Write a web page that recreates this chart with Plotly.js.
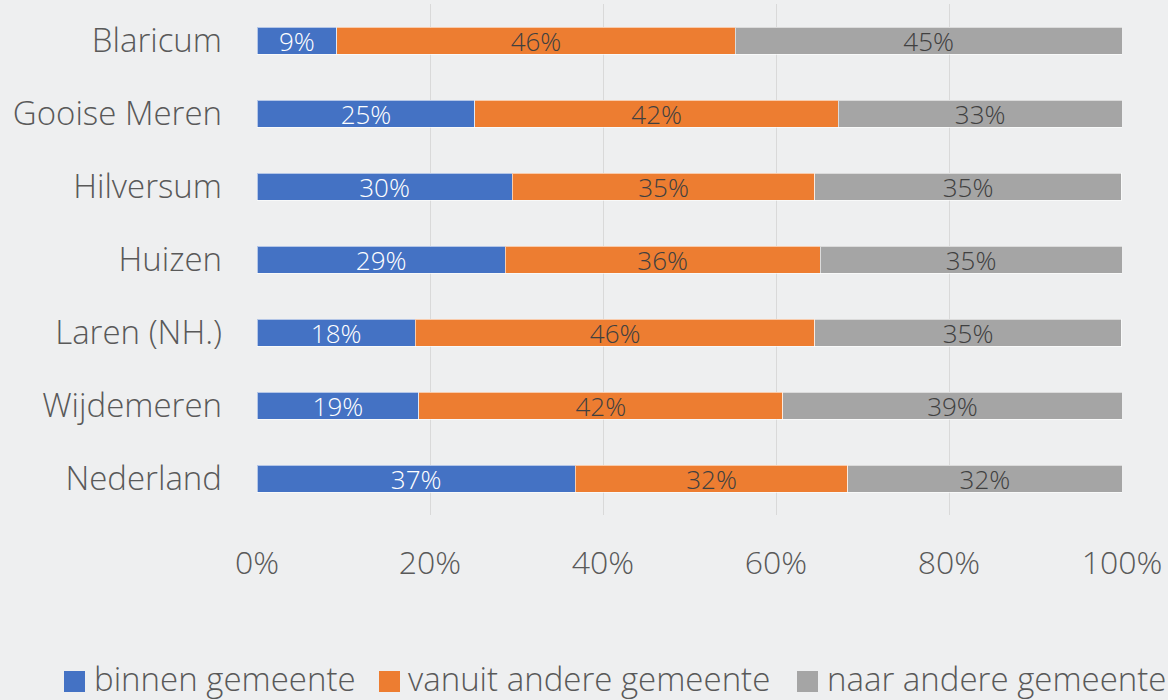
<!DOCTYPE html>
<html>
<head>
<meta charset="utf-8">
<script src="https://cdn.plot.ly/plotly-3.0.1.min.js"></script>
<style>
html,body{margin:0;padding:0;background:#eeeff0;}
#chart{width:1168px;height:700px;}
</style>
</head>
<body>
<div id="chart"></div>
<script>
const categories = ["Blaricum", "Gooise Meren", "Hilversum", "Huizen", "Laren (NH.)", "Wijdemeren", "Nederland"];
const binnen = [9.2, 25.2, 29.5, 28.7, 18.3, 18.7, 36.8];
const vanuit = [46.1, 42.0, 35.0, 36.4, 46.2, 42.1, 31.5];
const naar   = [44.7, 32.8, 35.4, 34.9, 35.4, 39.2, 31.7];
const seriesNames = ["binnen gemeente", "vanuit andere gemeente", "naar andere gemeente"];
const tickVals = [0, 20, 40, 60, 80, 100];
const tickText = ["0%", "20%", "40%", "60%", "80%", "100%"];

const FONT = "'Open Sans', Lato, sans-serif";
const colors = ["#4472C4", "#ED7D31", "#A5A5A5"];
const textColors = ["#ffffff", "#404040", "#404040"];
const series = [binnen, vanuit, naar];

const traces = series.map((vals, i) => ({
  type: "bar",
  orientation: "h",
  name: seriesNames[i],
  y: categories,
  x: vals,
  marker: {color: colors[i], line: {color: "rgba(255,255,255,0.6)", width: 1}},
  texttemplate: "%{x:.0f}%",
  textposition: "inside",
  insidetextanchor: "middle",
  textangle: 0,
  constraintext: "none",
  textfont: {family: FONT, size: 26, color: textColors[i], weight: 300},
  hoverinfo: "skip",
  showlegend: false
}));

// legend drawn as squares + labels (pixel positions converted to paper coords)
const W = 1168, H = 700;
const PL = 257, PW = 865, PB = 515, PH = 511;
const squareStarts = [64, 379, 797];
const textStarts = [95, 409, 828];
const px = v => (v - PL) / PW;
const py = v => (PB - v) / PH;
const shapes = [], annotations = [];
seriesNames.forEach((n, i) => {
  shapes.push({type: "rect", xref: "paper", yref: "paper",
    x0: px(squareStarts[i]), x1: px(squareStarts[i] + 21),
    y0: py(692), y1: py(671),
    fillcolor: colors[i], line: {width: 0}});
  annotations.push({xref: "paper", yref: "paper",
    x: px(textStarts[i] - 3), y: py(678),
    xanchor: "left", yanchor: "middle", showarrow: false, text: n,
    font: {family: FONT, size: 33, color: "#595959", weight: 300}});
});

const layout = {
  width: W,
  height: H,
  barmode: "stack",
  bargap: 0.63,
  paper_bgcolor: "#eeeff0",
  plot_bgcolor: "rgba(0,0,0,0)",
  margin: {l: 257, r: 46, t: 4, b: 185},
  font: {family: FONT, color: "#595959", weight: 300},
  xaxis: {
    range: [0, 100],
    tickvals: tickVals,
    ticktext: tickText,
    showgrid: true,
    gridcolor: "#d9d9d9",
    gridwidth: 1,
    zeroline: false,
    showline: false,
    ticks: "",
    automargin: false,
    ticklabelstandoff: 26,
    tickfont: {family: FONT, size: 32, color: "#595959", weight: 300},
    fixedrange: true
  },
  yaxis: {
    autorange: "reversed",
    showgrid: false,
    zeroline: false,
    showline: false,
    ticks: "",
    automargin: false,
    ticklabelstandoff: 34,
    tickfont: {family: FONT, size: 33, color: "#595959", weight: 300},
    fixedrange: true
  },
  showlegend: false,
  shapes: shapes,
  annotations: annotations
};

Plotly.newPlot("chart", traces, layout, {displayModeBar: false, staticPlot: true});
</script>
</body>
</html>
